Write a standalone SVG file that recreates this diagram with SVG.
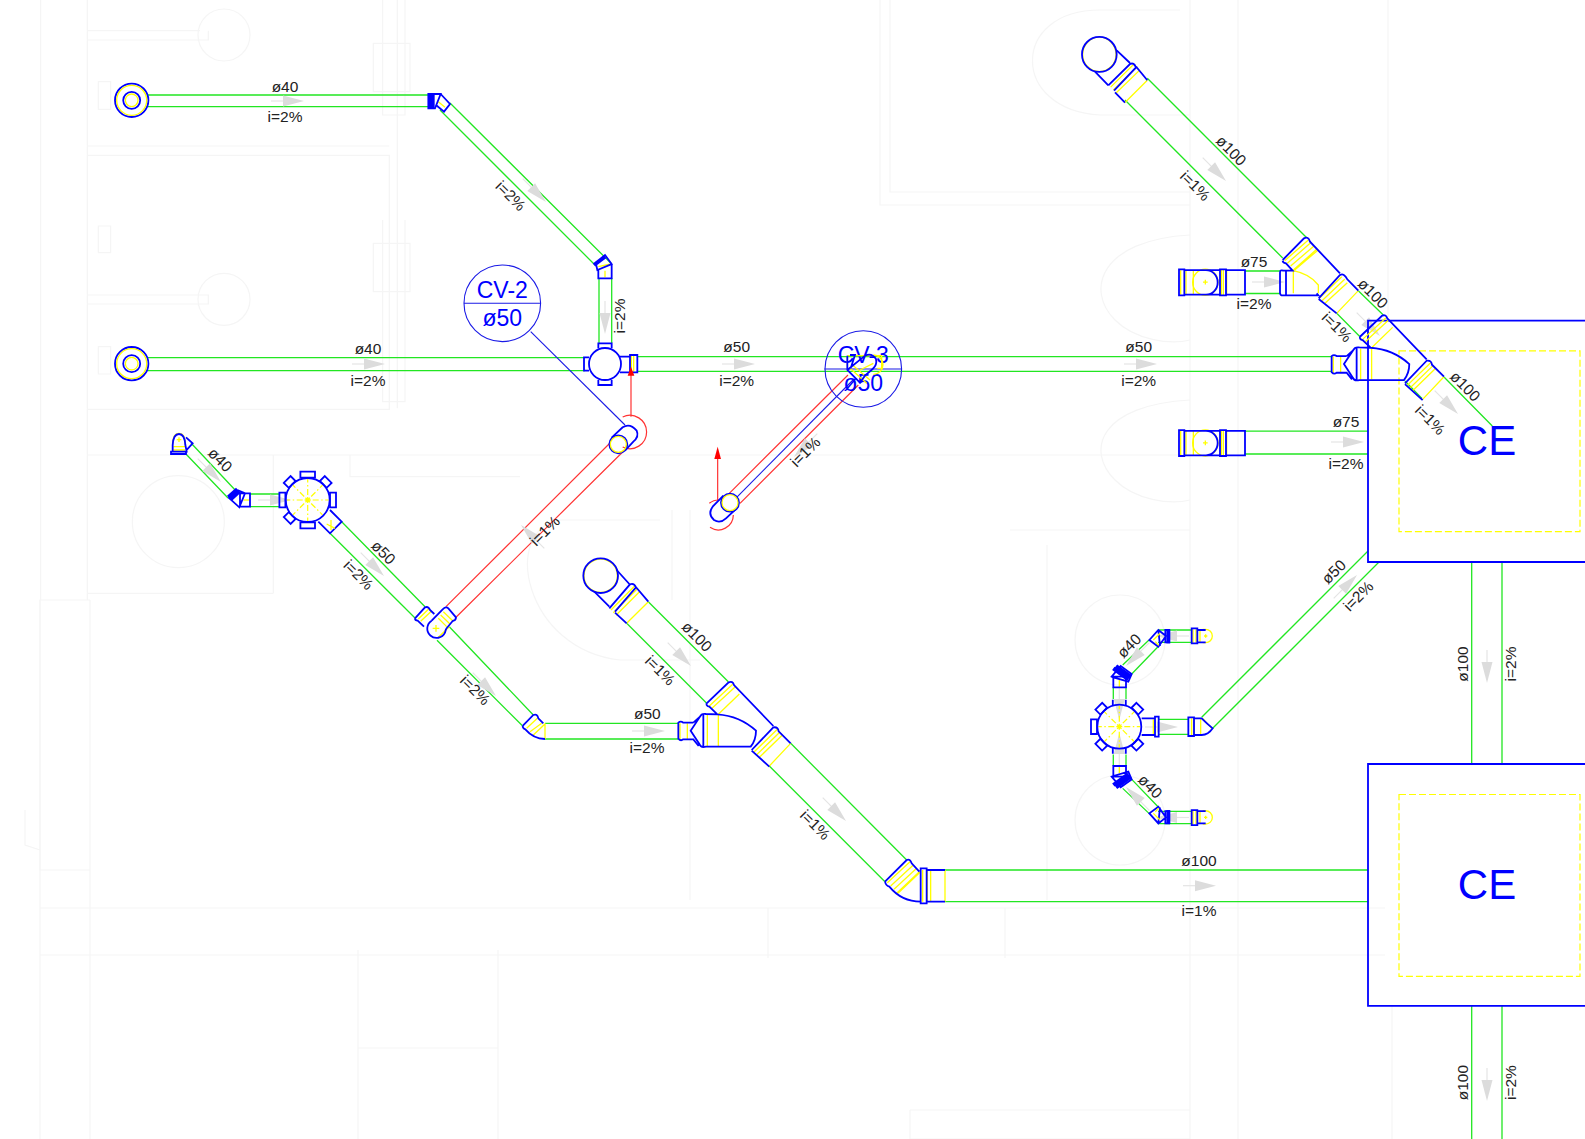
<svg xmlns="http://www.w3.org/2000/svg" xmlns:xlink="http://www.w3.org/1999/xlink" width="1585" height="1139" viewBox="0 0 1585 1139">
<style>
text{font-family:"Liberation Sans",Arial,sans-serif;fill:#222;font-size:15.5px;text-anchor:middle}
.cv{fill:#00f;font-size:23px}
.ce{fill:#00f;font-size:42px}
.b,.y,.t,.g,.r,.l,.bk,.yd,.sp{fill:none;vector-effect:non-scaling-stroke}
.b{stroke:#00f;stroke-width:1.8}
.bk{stroke:#00f;stroke-width:4}
.l{stroke:#1a1ae6;stroke-width:1.1}
.y{stroke:#ff0;stroke-width:1.3}
.yd{stroke:#ff0;stroke-width:1.2;stroke-dasharray:7 3}
.sp{stroke:#ff0;stroke-width:1.2;stroke-dasharray:6 2.500 1.500 2.500}
.g{stroke:#22e622;stroke-width:1.3}
.r{stroke:#f33;stroke-width:1.2}
.t{stroke:#f5f5f5;stroke-width:1.2}
.ar{fill:#dcdcdc}
.at{stroke:#e4e4e4;stroke-width:1.2;fill:none}
</style>
<defs>
<g id="arrow"><line class="at" x1="-16" y1="0" x2="-3" y2="0"/><polygon class="ar" points="-4,-5.500 17,0 -4,5.500"/></g>
<g id="clean">
<circle class="b" r="16.700"/><circle class="y" r="15"/><circle class="b" r="8.500"/><circle class="y" r="6.300"/>
</g>
<g id="spokes">
<path class="y" d="M0,-3V3M-3,0H3M-2.200,-2.200L2.200,2.200M-2.200,2.200L2.200,-2.200"/>
<path class="sp" d="M0,-5V-21M0,5V21M-5,0H-21M5,0H21M3.500,-3.500L14.800,-14.800M-3.500,-3.500L-14.800,-14.800M3.500,3.500L14.800,14.800M-3.500,3.500L-14.800,14.800"/>
<circle class="b" r="22"/>
</g>
<rect id="collar" class="b" x="-7.300" y="-28.300" width="14.600" height="6"/>
<rect id="collar-d" class="b" x="-4.800" y="-29" width="9.600" height="7"/>
<g id="yFit" transform="translate(500,540) scale(.33333)">
<path class="y" d="M628,498L698,433M636,505L706,440M655,523L718,462M762,636L832,568M770,644L840,576M778,652L848,584M808,678L872,610M622,525V618M655,525V618M540,550V598M562,550V598"/>
<path class="b" d="M620,490L686,427Q698,422 702,435L820,558M755,630L820,562Q834,560 836,574L872,610M755,632L808,680M620,490Q618,498 628,500L652,523Q720,528 768,572Q768,600 752,620L618,620Q602,624 598,612L572,572L600,530Q604,520 618,522L652,523M610,522V622M580,548H550Q542,542 535,548V596Q542,604 550,598H580L596,618M580,548L600,530"/>
</g>
<g id="wc" transform="translate(1060,20) scale(.33333,.3441)">
<circle class="y" cx="436" cy="762" r="38"/>
<path class="y" d="M362,727V798M378,727V798M400,727V798M484,725V800M490,725V800M500,727V798M436,755V769M429,762H443"/>
<path class="b" d="M400,727H438A35,35.500 0 0 1 438,798H400M357,725H373V800H357ZM480,725H498V800H480ZM373,727H480M373,798H480M498,727H555V798H498"/>
</g>
<g id="cap" transform="translate(1060,600) scale(.33333)">
<path class="y" d="M399,88V128M408,88V128M420,88V128M428,88H437A20,20 0 0 1 437,128H428M437,103V113M432,108H442"/>
<path class="b" d="M395,85H412V130H395ZM412,90H437M412,127H437"/>
</g>
<g id="mini" transform="translate(1060,600) scale(.33333)">
<path class="bk" d="M325,88V130"/>
<path class="b" d="M330,90H316V127H330M268,120L295,90L318,108L295,140ZM295,90L300,138"/>
<path class="y" d="M286,125L296,136M280,120L300,100"/>
</g>
</defs>
<g id="background">
<g transform="scale(.33333)">
<path class="t" d="M122,0V1800M262,0V1800M262,92H600M262,120H625V92M262,438H1168M262,466H1168V1230M1192,0V1225M1148,0V345H1215V0M1148,660V1205H1215V660M262,885H625V912H262M262,1228H1168M262,1365H3600M820,1365V1780M262,1780H820"/>
<circle class="t" cx="672" cy="105" r="78"/><circle class="t" cx="672" cy="898" r="78"/><circle class="t" cx="535" cy="1565" r="138"/>
<path class="t" d="M295,245H332V328H295ZM295,678H332V758H295ZM295,1040H332V1122H295ZM1120,130H1230V275H1120ZM1120,730H1230V875H1120ZM1050,1365V1430H1560"/>
</g>
<path class="t" d="M40,600V1139M90,600V1139M40,908H1385M40,955H1385M90,955V1139M358,950V1139M498,950V1139M358,1048H498M768,910V955H1005V910M768,908V958M1005,908V958M910,1110V1139H1190V1110H910M880,0V205H1190M890,0V192H1190M1190,0V1139M1238,0V1139M1388,0V320M1047,545V900M1190,530H1010M1392,1005V1139M1238,545V900"/>
<path class="t" d="M1100,10H1180M1100,10C1010,10 1010,110 1100,115H1190"/>
<path class="t" d="M1190,235C1100,240 1085,290 1115,320 1135,340 1170,345 1190,340M1190,400C1100,405 1085,450 1115,480 1135,500 1170,505 1190,500"/>
<circle class="t" cx="1120" cy="640" r="45"/><circle class="t" cx="1120" cy="820" r="45"/>
<path class="t" d="M660,520H560C500,530 525,650 620,660H700M672,510V600M690,510V900"/>
<path class="t" d="M25,810V845L40,850M90,600H40V870H90"/>
</g>
<g id="connectors">
<path class="g" d="M148,95H430M148,106.700H430M440,110L595,265M450,103L611.700,264M599,278V343M611.700,278V343M148,357.700H585M148,370.700H585M637,356.700H1331M637,371.300H1331"/>
<path class="g" d="M191,443L237,492M185,453L228,498M250,494H280M250,506.700H280M341.700,521.700L425,606.700M330,533.300L415,618M449.300,626.700L533.300,715M437,640.300L522.700,726M545,723.300H678M545,739H678"/>
<path class="g" d="M648.300,601.700L728.300,681.700M626.700,623.300L706.700,703.300M790.700,743.300L906.700,860M769.300,766L885,881.700M945,870H1368M945,901.700H1368"/>
<path class="g" d="M1147.300,78.300L1306.700,237.700M1125,100L1282.700,258M1358.300,290.700L1383.300,315M1336.700,313.300L1360,336.700M1444,377L1492.300,426M1405,381L1422,398.500"/>
<path class="g" d="M1245,271H1280M1245,293.500H1280M1245,431.200H1368M1245,454H1368"/>
<path class="g" d="M1158,630H1192M1158,642.300H1192M1158,811.300H1192M1158,823.700H1192M1122.700,665L1149,640M1131.700,674L1158,646.700M1122.700,788.400L1149,813.400M1131.700,779.400L1158,806.700M1113.300,687.300V699M1126,687.300V699M1113.300,754.400V766M1126,754.400V766M1158,719.300H1188M1158,734.300H1188M1201.700,717.300L1368,551M1212.700,728.300L1379,562"/>
<path class="g" d="M1471.700,562V764M1502,562V764M1471.700,1005.800V1139M1502,1005.800V1139"/>
<path class="r" d="M610,443L446,606.700M626.700,448L456,617.300M729.300,493.300L848,375M740,503.300L858.300,385"/>
<path class="l" d="M736.700,497.300L853,380"/>
<path class="l" d="M530.700,331.700L625,425"/>
</g>
<g id="arrows">
<use href="#arrow" transform="translate(287,101)"/>
<use href="#arrow" transform="translate(368,364)"/>
<use href="#arrow" transform="translate(738,364)"/>
<use href="#arrow" transform="translate(1140,364)"/>
<use href="#arrow" transform="translate(534,190) rotate(45)"/>
<use href="#arrow" transform="translate(605,317) rotate(90)"/>
<use href="#arrow" transform="translate(533,537) rotate(-135)"/>
<use href="#arrow" transform="translate(806,445) rotate(135)"/>
<use href="#arrow" transform="translate(209,470) rotate(45)"/>
<use href="#arrow" transform="translate(274,500)"/>
<use href="#arrow" transform="translate(372,564) rotate(45)"/>
<use href="#arrow" transform="translate(484,684) rotate(45)"/>
<use href="#arrow" transform="translate(648,731)"/>
<use href="#arrow" transform="translate(679,654) rotate(45)"/>
<use href="#arrow" transform="translate(834,809) rotate(45)"/>
<use href="#arrow" transform="translate(1199,885.700)"/>
<use href="#arrow" transform="translate(1214,169) rotate(45)"/>
<use href="#arrow" transform="translate(1268,282)"/>
<use href="#arrow" transform="translate(1368,324) rotate(45)"/>
<use href="#arrow" transform="translate(1347,442)"/>
<use href="#arrow" transform="translate(1446,402) rotate(45)"/>
<use href="#arrow" transform="translate(1345,587) rotate(-45)"/>
<use href="#arrow" transform="translate(1487,666) rotate(90)"/>
<use href="#arrow" transform="translate(1487,1084) rotate(90)"/>
<use href="#arrow" transform="translate(1138,654) rotate(135)"/>
<use href="#arrow" transform="translate(1173,636) rotate(180)"/>
<use href="#arrow" transform="translate(1173,817.500) rotate(180)"/>
<use href="#arrow" transform="translate(1138,799) rotate(-135)"/>
<use href="#arrow" transform="translate(1119.300,703) rotate(90)"/>
<use href="#arrow" transform="translate(1119.300,750) rotate(-90)"/>
<use href="#arrow" transform="translate(1161,727)"/>
</g>
<g id="ce-1">
<rect class="b" x="1368" y="320.700" width="230" height="241.300"/>
<rect class="yd" x="1399" y="350.800" width="181" height="180.900"/>
<text class="ce" x="1487" y="455.300">CE</text>
</g>
<g id="ce-2">
<rect class="b" x="1368" y="764" width="230" height="241.800"/>
<rect class="yd" x="1399" y="794.500" width="181" height="181.900"/>
<text class="ce" x="1487" y="898.800">CE</text>
</g>
<g id="cleanout-1"><use href="#clean" transform="translate(131.700,100.300)"/></g>
<g id="cleanout-2"><use href="#clean" transform="translate(131.700,363.700)"/></g>
<g id="bend-1" transform="translate(100,70) scale(.33333)">
<path class="y" d="M1015,95L1035,112"/>
<path class="bk" d="M990,72V115M998,72V115"/>
<path class="b" d="M985,72H1022L1005,115H985ZM1022,72L1050,102L1032,125L1008,105"/>
</g>
<g id="bend-2" transform="translate(570,240) scale(.33333)">
<path class="bk" d="M72,75L105,50"/>
<path class="y" d="M105,92V112M85,80L122,72"/>
<path class="b" d="M78,72L105,45L125,72L82,90ZM85,90V115H125V72"/>
</g>
<g id="cross-1" transform="translate(440,240) scale(.33333)">
<circle class="b" cx="495" cy="372" r="48"/>
<path class="y" d="M574,345V395M581,345V395"/>
<path class="b" d="M475,325V310H515V325M475,420V435H515V420M447,352H432V392H447M540,350H570V397H540M570,345H592V397H570Z"/>
</g>
<g id="cap-top-left" transform="translate(150,410) scale(.33333)">
<path class="y" d="M68,105Q68,70 87,70Q106,70 106,105M70,120H105M70,110H105M87,82V96M80,89H94"/>
<path class="b" d="M68,125V105Q70,72 87,72Q104,72 106,105L110,125ZM63,125H108V132H63ZM108,82L128,100L108,122"/>
</g>
<g id="bend-3" transform="translate(150,410) scale(.33333)">
<path class="bk" d="M235,262L262,238M242,268L268,244"/>
<path class="y" d="M280,270H300"/>
<path class="b" d="M270,250H300V290H270ZM262,240L285,250L268,292L235,262"/>
</g>
<g id="drain-1" transform="translate(307.700,500)">
<use href="#spokes"/>
<use href="#collar"/><use href="#collar-d" transform="rotate(45)"/><use href="#collar" transform="rotate(90)"/><use href="#collar" transform="rotate(180)"/><use href="#collar-d" transform="rotate(225)"/><use href="#collar" transform="rotate(270)"/><use href="#collar-d" transform="rotate(315)"/>
<path class="b" transform="translate(-157.700,-90) scale(.33333)" d="M505,335L540,370L575,335L540,300"/>
<path class="y" transform="translate(-157.700,-90) scale(.33333)" d="M530,342L555,355M543,330V360"/>
</g>
<g id="fitting-mid" transform="translate(150,410) scale(.33333)">
<path class="y" d="M805,627L836,597M812,634L844,604M880,605L908,632M872,615L900,642M865,625L890,650M865,682L898,650M858,645V665M848,655H868"/>
<path class="b" d="M795,625L825,592Q835,588 840,600L853,612M795,625Q795,632 803,632L822,650M878,598Q888,588 895,595L918,622Q918,632 908,633L888,657M845,632L878,598M845,632A28,28 0 1 0 885,668L888,657"/>
</g>
<g id="elbow-1" transform="translate(500,540) scale(.33333)">
<path class="y" d="M80,565L112,535M90,575L125,550M100,585L135,552M135,550V597"/>
<path class="b" d="M68,558L100,525Q112,520 115,535L130,550M68,558Q68,565 76,568Q100,596 135,597"/>
</g>
<g id="capsule-1" transform="translate(440,240) scale(.33333)">
<path class="r" d="M548,531A50,50 0 1 1 548,621"/>
<path class="r" d="M573,530V405"/>
<polygon points="573,380 563,407 583,407" fill="#f00"/>
<path class="b" d="M515,593L548,562Q570,548 590,572Q598,590 580,605L555,632"/>
<circle class="b" cx="535" cy="613" r="27"/>
<circle class="y" cx="535" cy="613" r="24"/>
</g>
<g id="capsule-2" transform="translate(440,240) scale(.33333)">
<path class="r" d="M808,790A45,45 0 0 1 838,780M810,862A45,45 0 0 0 880,825"/>
<path class="r" d="M833,780V655"/>
<polygon points="833,620 823,657 843,657" fill="#f00"/>
<path class="b" d="M850,767L818,800Q802,822 822,840Q840,852 858,835L890,805"/>
<circle class="b" cx="870" cy="788" r="27"/>
<circle class="y" cx="870" cy="788" r="24"/>
</g>
<g id="wye-1"><use href="#yFit"/></g>
<g id="wye-2"><use href="#yFit" transform="translate(653.300,-366.600)"/></g>
<g id="head-1" transform="translate(500,540) scale(.33333)">
<circle class="y" cx="302" cy="107" r="50"/>
<circle class="b" cx="302" cy="107" r="52"/>
<path class="y" d="M333,210L404,138M340,218L412,146M348,226L420,154M380,250L445,185"/>
<path class="b" d="M350,90L388,132M405,138L445,185M283,155L328,200M345,218L380,250M328,205L390,133Q402,128 408,142L345,215"/>
</g>
<g id="head-2" transform="translate(1060,20) scale(.33333,.3441)">
<circle class="y" cx="118" cy="100" r="50"/>
<ellipse class="b" cx="118" cy="100" rx="52" ry="51"/>
<path class="y" d="M152,195L222,128M160,203L232,135M168,212L240,145M195,240L262,175"/>
<path class="b" d="M170,88L210,125M228,135L262,175M105,150L145,190M165,210L195,240M145,190L210,128Q222,122 228,138L162,205"/>
</g>
<g id="elbow-2" transform="translate(500,540) scale(.33333)">
<path class="y" d="M1162,1028L1230,965M1172,1038L1240,975M1182,1048L1250,985M1190,1060L1258,995M1194,1060L1260,997M1268,990V1085M1282,990V1085M1292,990V1085M1335,990V1085"/>
<path class="b" d="M1155,1025L1220,960Q1230,955 1235,970L1258,995M1155,1025Q1158,1038 1168,1040Q1205,1085 1262,1085M1262,985H1280V1090H1262ZM1280,990H1335M1280,1085H1335"/>
</g>
<g id="wye-3" transform="translate(1260,230) scale(.33333)">
<path class="y" d="M74,92L145,30M82,100L152,38M92,108L162,48M100,120L170,58M104,120L172,62M100,122Q150,132 175,165V190M100,122V190M178,205L245,140M186,212L254,148M195,220L262,158M230,250L295,182"/>
<path class="b" d="M68,90L132,25Q145,18 150,35L240,130M176,205L240,135Q252,128 262,148L295,182M176,207L230,250M68,92Q68,98 78,100L98,122H70Q60,118 60,128V190Q62,198 70,196H175L170,190"/>
<path class="b" d="M78,122V196"/>
</g>
<g id="wc-1"><use href="#wc"/></g>
<g id="wc-2"><use href="#wc" transform="translate(0,160.700)"/></g>
<g id="drain-2" transform="translate(1119.300,726.700)">
<use href="#spokes"/>
<use href="#collar-d" transform="rotate(45)"/><use href="#collar-d" transform="rotate(135)"/><use href="#collar-d" transform="rotate(225)"/><use href="#collar" transform="rotate(270)"/><use href="#collar-d" transform="rotate(315)"/>
<path class="b" d="M-6.500,-21V-27M6.500,-21V-27M-6.500,21V27M6.500,21V27"/>
</g>
<g id="drain-2-fittings" transform="translate(1060,600) scale(.33333)">
<path class="y" d="M280,358V403M395,355V405M402,355V405M422,355V405M428,355L455,385M178,240V262M178,520V500"/>
<path class="b" d="M245,355H285V405H245M285,350H296V410H285ZM385,352H402V408H385ZM402,355H425Q440,370 458,385Q445,405 425,405H402"/>
<path class="bk" d="M160,205L205,238M168,198L212,230M160,555L205,522M168,562L212,530"/>
<path class="b" d="M155,230L182,198L215,222L205,245L160,232ZM160,230H198V262H160ZM155,530L182,562L215,538L205,515L160,528ZM160,530H198V498H160Z"/>
</g>
<g id="cap-1"><use href="#mini"/><use href="#cap"/></g>
<g id="cap-2"><use href="#mini" transform="translate(0,1453.400) scale(1,-1)"/><use href="#cap" transform="translate(0,1453.400) scale(1,-1)"/></g>
<g id="cv-2">
<circle class="l" cx="502.300" cy="303.300" r="38.300"/>
<path class="l" d="M464,303.300H540.600"/>
<text class="cv" x="502.300" y="297.700">CV-2</text>
<text class="cv" x="502.300" y="326">ø50</text>
</g>
<g id="cv-3">
<path class="l" d="M824.500,369H902"/>
<circle class="l" cx="863.300" cy="369" r="38.300"/>
<text class="cv" x="863.300" y="362.500">CV-3</text>
<text class="cv" x="863.300" y="391">ø50</text>
<g transform="translate(830,335) scale(.33333)">
<path class="y" d="M52,62H155V100H142M52,62V100M60,100L110,145M70,92L120,135M90,105L130,85M130,60A28,28 0 1 1 130,118"/>
<path class="b" d="M52,62V105L92,145M60,60H75L62,100M52,105L105,62Q125,52 138,72Q142,90 128,102L105,122L92,140"/>
</g>
</g>
<g id="labels">
<text x="285" y="91.500">ø40</text><text x="285" y="121.700">i=2%</text>
<text x="368" y="354.300">ø40</text><text x="368" y="385.700">i=2%</text>
<text x="736.700" y="352">ø50</text><text x="736.700" y="386">i=2%</text>
<text x="1138.700" y="352">ø50</text><text x="1138.700" y="386">i=2%</text>
<text x="647.300" y="719">ø50</text><text x="647" y="753">i=2%</text>
<text x="1199" y="866">ø100</text><text x="1199" y="916">i=1%</text>
<text x="1254" y="267">ø75</text><text x="1254" y="309">i=2%</text>
<text x="1346" y="427">ø75</text><text x="1346" y="469">i=2%</text>
<text transform="translate(510.500,196) rotate(45)" y="5">i=2%</text>
<text transform="translate(620,316) rotate(-90)" y="5">i=2%</text>
<text transform="translate(220,460) rotate(45)" y="5">ø40</text>
<text transform="translate(383.300,552.700) rotate(45)" y="5">ø50</text>
<text transform="translate(358.300,575) rotate(45)" y="5">i=2%</text>
<text transform="translate(475,690.400) rotate(45)" y="5">i=2%</text>
<text transform="translate(545,531) rotate(-45)" y="5">i=1%</text>
<text transform="translate(805.500,452) rotate(-45)" y="5">i=1%</text>
<text transform="translate(696.700,636.700) rotate(45)" y="5">ø100</text>
<text transform="translate(660,670.700) rotate(45)" y="5">i=1%</text>
<text transform="translate(815,825) rotate(45)" y="5">i=1%</text>
<text transform="translate(1231,150.800) rotate(45)" y="5">ø100</text>
<text transform="translate(1195,186) rotate(45)" y="5">i=1%</text>
<text transform="translate(1372.700,293.600) rotate(45)" y="5">ø100</text>
<text transform="translate(1336.700,327.300) rotate(45)" y="5">i=1%</text>
<text transform="translate(1465,386.500) rotate(45)" y="5">ø100</text>
<text transform="translate(1430,420) rotate(45)" y="5">i=1%</text>
<text transform="translate(1334,572) rotate(-45)" y="5">ø50</text>
<text transform="translate(1358.500,596.400) rotate(-45)" y="5">i=2%</text>
<text transform="translate(1129.300,646) rotate(-45)" y="5">ø40</text>
<text transform="translate(1150,786.700) rotate(45)" y="5">ø40</text>
<text transform="translate(1462.700,664) rotate(-90)" y="5">ø100</text>
<text transform="translate(1511,664) rotate(-90)" y="5">i=2%</text>
<text transform="translate(1462.700,1082.600) rotate(-90)" y="5">ø100</text>
<text transform="translate(1511,1082.600) rotate(-90)" y="5">i=2%</text>
</g>
</svg>
